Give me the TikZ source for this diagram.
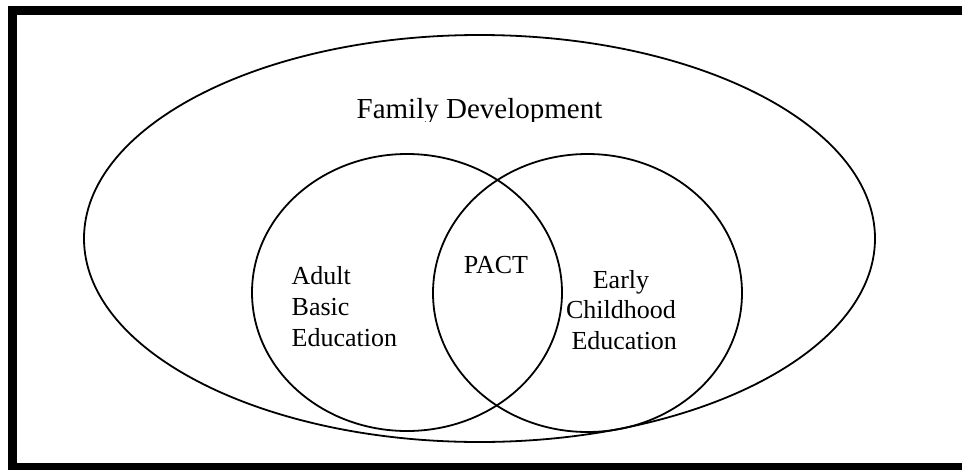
\documentclass[tikz,border=0pt]{standalone}
\usepackage{fontspec}
\setmainfont{Liberation Serif}
\usetikzlibrary{shapes.geometric}
\tikzset{
  ring/.style={draw=black, ellipse, line width=1.8pt, inner sep=0pt, outer sep=0pt},
  lbl/.style={inner sep=0pt, outer sep=0pt, font=\fontsize{26}{30.7}\selectfont},
  biglbl/.style={inner sep=0pt, outer sep=0pt, font=\fontsize{29}{32}\selectfont}
}
\begin{document}
\begin{tikzpicture}[x=1pt,y=-1pt]
\useasboundingbox (0,0) rectangle (962,469);
\clip (0,0) rectangle (962,469);
\fill[white] (0,0) rectangle (962,469);
% frame
\draw[line width=9pt] (1000,467.5) -- (12.5,467.5) -- (12.5,10.5) -- (1000,10.5);
% shapes
\node[ring, minimum width=791pt, minimum height=407pt] (fd) at (479.5,238.5) {};
\node[ring, minimum width=310pt, minimum height=277pt] (abe) at (407,292.5) {};
\node[ring, minimum width=309pt, minimum height=278pt] (ece) at (587.5,293) {};
% labels
\begin{scope}
\clip (300,80) rectangle (660,121);
\node[biglbl, anchor=base] (fdl) at (479.5,118.7) {Family Development};
\end{scope}
\node[lbl, anchor=base] (pact) at (496,273.3) {PACT};
\node[lbl, anchor=base west, align=left] (abel) at (291.7,346) {Adult\\Basic\\Education};
\node[lbl, anchor=base, align=center] (ecel) at (621,349.5) {Early\\Childhood\\\hspace*{6.5pt}Education};
\end{tikzpicture}
\end{document}
